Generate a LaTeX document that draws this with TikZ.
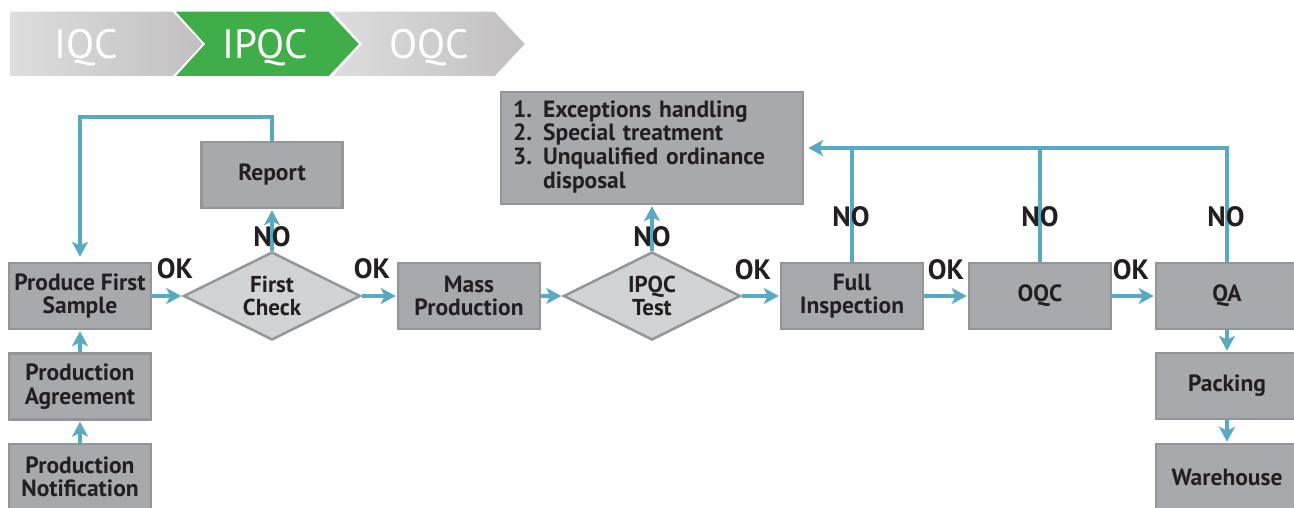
\documentclass[tikz,border=0pt]{standalone}
\usepackage{fontspec}
\setmainfont{PT Sans}
\usetikzlibrary{shapes.geometric,arrows.meta}
\definecolor{boxfill}{HTML}{A7A9AC}
\definecolor{boxline}{HTML}{939598}
\definecolor{dfill}{HTML}{D1D3D4}
\definecolor{arrowc}{HTML}{58AAC4}
\definecolor{txt}{HTML}{231F20}
\definecolor{grn}{HTML}{3FAE49}
\definecolor{gl}{HTML}{DEDEDE}
\definecolor{gr}{HTML}{C1BFBF}
\begin{document}
\begin{tikzpicture}[x=1pt,y=-1pt,
  box/.style={draw=boxline, line width=2.5pt, fill=boxfill, minimum width=142pt, minimum height=66pt, inner sep=0pt, align=center, text=txt, font=\bfseries\fontsize{23.5}{23.5}\selectfont},
  dia/.style={diamond, draw=boxline, line width=2.5pt, fill=dfill, minimum width=177pt, minimum height=88pt, inner sep=0pt, aspect=2, align=center, text=txt, font=\bfseries\fontsize{23}{23.5}\selectfont},
  conn/.style={draw=arrowc, line width=4pt},
  arr/.style={conn, -{Stealth[length=15pt,width=16pt,inset=4pt]}, shorten >=1pt},
  lbl/.style={text=txt, font=\bfseries\fontsize{28}{30}\selectfont, inner sep=0pt, anchor=base},
  chev/.style={draw=white, line width=1.5pt},
  chevtxt/.style={text=white, font=\fontsize{41}{45}\selectfont, inner sep=0pt, anchor=base}
]
\useasboundingbox (0,0) rectangle (1294,508);

% top process bar
\path[chev, left color=gl, right color=gr] (9,11) -- (173,11) -- (204,44) -- (173,77) -- (9,77) -- cycle;
\path[chev, fill=grn] (174,11) -- (329,11) -- (360,44) -- (329,77) -- (174,77) -- (204,44) -- cycle;
\path[chev, left color=gl, right color=gr] (331,11) -- (495,11) -- (526,44) -- (495,77) -- (331,77) -- (361,44) -- cycle;
\node[chevtxt] (t1) at (86,58.5) {IQC};
\node[chevtxt] (t2) at (265,58.5) {IPQC};
\node[chevtxt] (t3) at (429,58.5) {OQC};

% nodes
\node[box] (pfs) at (80,296) {Produce First\\Sample};
\node[box] (pa) at (80,386.5) {Production\\Agreement};
\node[box] (pn) at (80,477) {Production\\Notification};
\node[box, minimum width=141pt] (report) at (272,175) {Report};
\node[dia] (fc) at (272,296) {First\\Check};
\node[box] (mass) at (469,296) {Mass\\Production};
\node[dia] (ipqc) at (652,296) {IPQC\\Test};
\node[box, minimum height=112pt, text width=278pt, inner xsep=12pt, align=left] (exc) at (652,148)
  {\begin{tabular}{@{}l@{\hspace{11pt}}l@{}}1. & Exceptions handling\\ 2. & Special treatment\\ 3. & Unqualified ordinance\\ & disposal\end{tabular}};
\node[box] (fi) at (852,296) {Full\\Inspection};
\node[box] (oqc) at (1040,296) {OQC};
\node[box] (qa) at (1227,296) {QA};
\node[box] (pack) at (1227,386) {Packing};
\node[box] (wh) at (1227,477) {Warehouse};

% connectors
\draw[arr] (pfs) -- (fc);
\draw[arr] (fc) -- (mass);
\draw[arr] (mass) -- (ipqc);
\draw[arr] (ipqc) -- (fi);
\draw[arr] (fi) -- (oqc);
\draw[arr] (oqc) -- (qa);
\draw[arr] (fc.north) -- (report.south);
\draw[arr] (ipqc.north) -- (exc.south);
\coordinate (ly) at (0,117);
\draw[arr, shorten >=5pt] (report.north) -- (report.north |- ly) -| (pfs.north);
\draw[arr, shorten >=4pt] (qa.north) |- (exc.east);
\draw[conn] (fi.north) -- (fi.north |- exc.east);
\draw[conn] (oqc.north) -- (oqc.north |- exc.east);
\draw[arr] (pn) -- (pa);
\draw[arr] (pa) -- (pfs);
\draw[arr] (qa) -- (pack);
\draw[arr] (pack) -- (wh);

% labels
\node[lbl] (ok1) at (175,278) {OK};
\node[lbl] (ok2) at (372,278) {OK};
\node[lbl] (ok3) at (753,279) {OK};
\node[lbl] (ok4) at (946,279) {OK};
\node[lbl] (ok5) at (1131,279) {OK};
\node[lbl] (no1) at (272,246) {NO};
\node[lbl] (no2) at (652,246) {NO};
\node[lbl] (no3) at (851,226) {NO};
\node[lbl] (no4) at (1040,226) {NO};
\node[lbl] (no5) at (1226,226) {NO};
\end{tikzpicture}
\end{document}
